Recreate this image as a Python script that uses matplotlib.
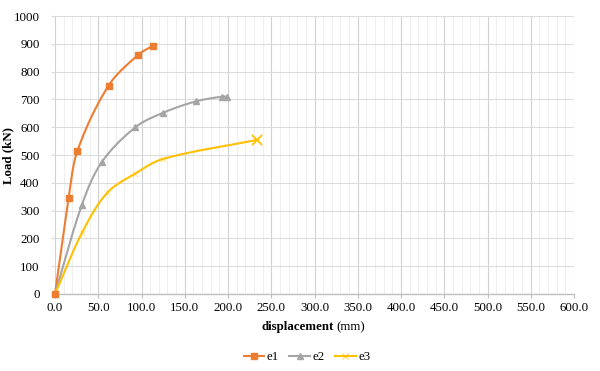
import numpy as np
import matplotlib
matplotlib.use("Agg")
import matplotlib.pyplot as plt
from matplotlib.ticker import MultipleLocator, FormatStrFormatter

# Data
e1_x = [0, 16, 26, 62, 96, 113]
e1_y = [0, 347, 516, 750, 860, 893]
e2_x = [0, 31, 54, 93, 125, 163, 193, 199]
e2_y = [0, 320, 474, 600, 652, 693, 710, 710]
e3_x = [0, 31, 60, 92, 125, 233]
e3_y = [0, 219, 363, 432, 486, 554]

colors = {"e1": "#ED7D31", "e2": "#A5A5A5", "e3": "#FFC000"}

plt.rcParams["font.family"] = ["Liberation Serif", "DejaVu Serif"]


def smooth(xs, ys, n=40, sx=600 / 519, sy=1000 / 278):
    # smooth Bezier through points (computed in pixel-like space)
    P = np.column_stack([np.array(xs) / sx, np.array(ys) / sy]).astype(float)
    out = [P[0]]
    N = len(P)
    tang = []
    for i in range(N):
        a = P[i - 1] if i > 0 else P[i]
        b = P[i + 1] if i < N - 1 else P[i]
        d = b - a
        nrm = np.linalg.norm(d)
        tang.append(d / nrm if nrm > 0 else d)
    for i in range(N - 1):
        p1, p2 = P[i], P[i + 1]
        L = np.linalg.norm(p2 - p1)
        c1 = p1 + tang[i] * L / 3.0
        c2 = p2 - tang[i + 1] * L / 3.0
        t = np.linspace(0, 1, n)[1:, None]
        seg = ((1 - t) ** 3) * p1 + 3 * ((1 - t) ** 2) * t * c1 + 3 * (1 - t) * t ** 2 * c2 + t ** 3 * p2
        out.extend(seg)
    out = np.array(out)
    return out[:, 0] * sx, out[:, 1] * sy


fig = plt.figure(figsize=(6, 3.71), dpi=100)
ax = fig.add_axes([55 / 600, 1 - 294 / 371, 519 / 600, (294 - 16) / 371])

# e1
sx, sy = smooth(e1_x, e1_y)
ax.plot(sx, sy, color=colors["e1"], lw=1.5, zorder=3, clip_on=False)
ax.plot(e1_x, e1_y, ls="none", marker="s", ms=4.5, color=colors["e1"], zorder=5, clip_on=False)
# e2
sx, sy = smooth(e2_x, e2_y)
ax.plot(sx, sy, color=colors["e2"], lw=1.5, zorder=3, clip_on=False)
ax.plot(e2_x, e2_y, ls="none", marker="^", ms=4.5, color=colors["e2"], zorder=4, clip_on=False)
# e3
sx, sy = smooth(e3_x, e3_y)
ax.plot(sx, sy, color=colors["e3"], lw=1.5, zorder=3, clip_on=False)
ax.plot(e3_x, e3_y, ls="none", marker="x", ms=5, mew=1, color=colors["e3"], alpha=0.3, zorder=4, clip_on=False)
ax.plot(e3_x[-1:], e3_y[-1:], ls="none", marker="x", ms=7, mew=1.3, color=colors["e3"], zorder=4, clip_on=False)

# legend handles
h1, = ax.plot([], [], color=colors["e1"], lw=1.5, marker="s", ms=4)
h2, = ax.plot([], [], color=colors["e2"], lw=1.5, marker="^", ms=4)
h3, = ax.plot([], [], color=colors["e3"], lw=1.5, marker="x", ms=5, mew=0.5)
fig.legend([h1, h2, h3], ["e1", "e2", "e3"], loc="center", bbox_to_anchor=(307 / 600, 1 - 357 / 371),
           ncol=3, frameon=False, fontsize=9.3, handlelength=1.6, columnspacing=0.8, handletextpad=0.2)

ax.set_xlim(0, 600)
ax.set_ylim(0, 1000)
ax.xaxis.set_major_locator(MultipleLocator(50))
ax.xaxis.set_minor_locator(MultipleLocator(10))
ax.yaxis.set_major_locator(MultipleLocator(100))
ax.xaxis.set_major_formatter(FormatStrFormatter("%.1f"))

ax.grid(which="major", axis="x", color="#D0D0D0", lw=0.8)
ax.grid(which="minor", axis="x", color="#EDEDED", lw=0.6)
ax.grid(which="major", axis="y", color="#DCDCDC", lw=0.8)
ax.set_axisbelow(True)

for s in ["top", "right", "left"]:
    ax.spines[s].set_visible(False)
ax.spines["bottom"].set_color("#BFBFBF")
ax.spines["bottom"].set_linewidth(1.0)
ax.tick_params(axis="x", which="major", length=3, color="#BFBFBF", labelsize=9.3, pad=3)
ax.tick_params(axis="x", which="minor", length=0)
ax.tick_params(axis="y", length=3, color="#D9D9D9", labelsize=9.3, pad=8)

ax.set_ylabel("Load (kN)", fontsize=9.3, fontweight="bold", labelpad=6)
ax.yaxis.set_label_coords(-41 / 519, 0.5)
fig.text(334 / 600, 1 - 327 / 371, "displacement", fontsize=9.3, fontweight="bold", ha="right", va="center")
fig.text(336 / 600, 1 - 327 / 371, "(mm)", fontsize=9.3, ha="left", va="center")

fig.savefig("out.png", dpi=100)
